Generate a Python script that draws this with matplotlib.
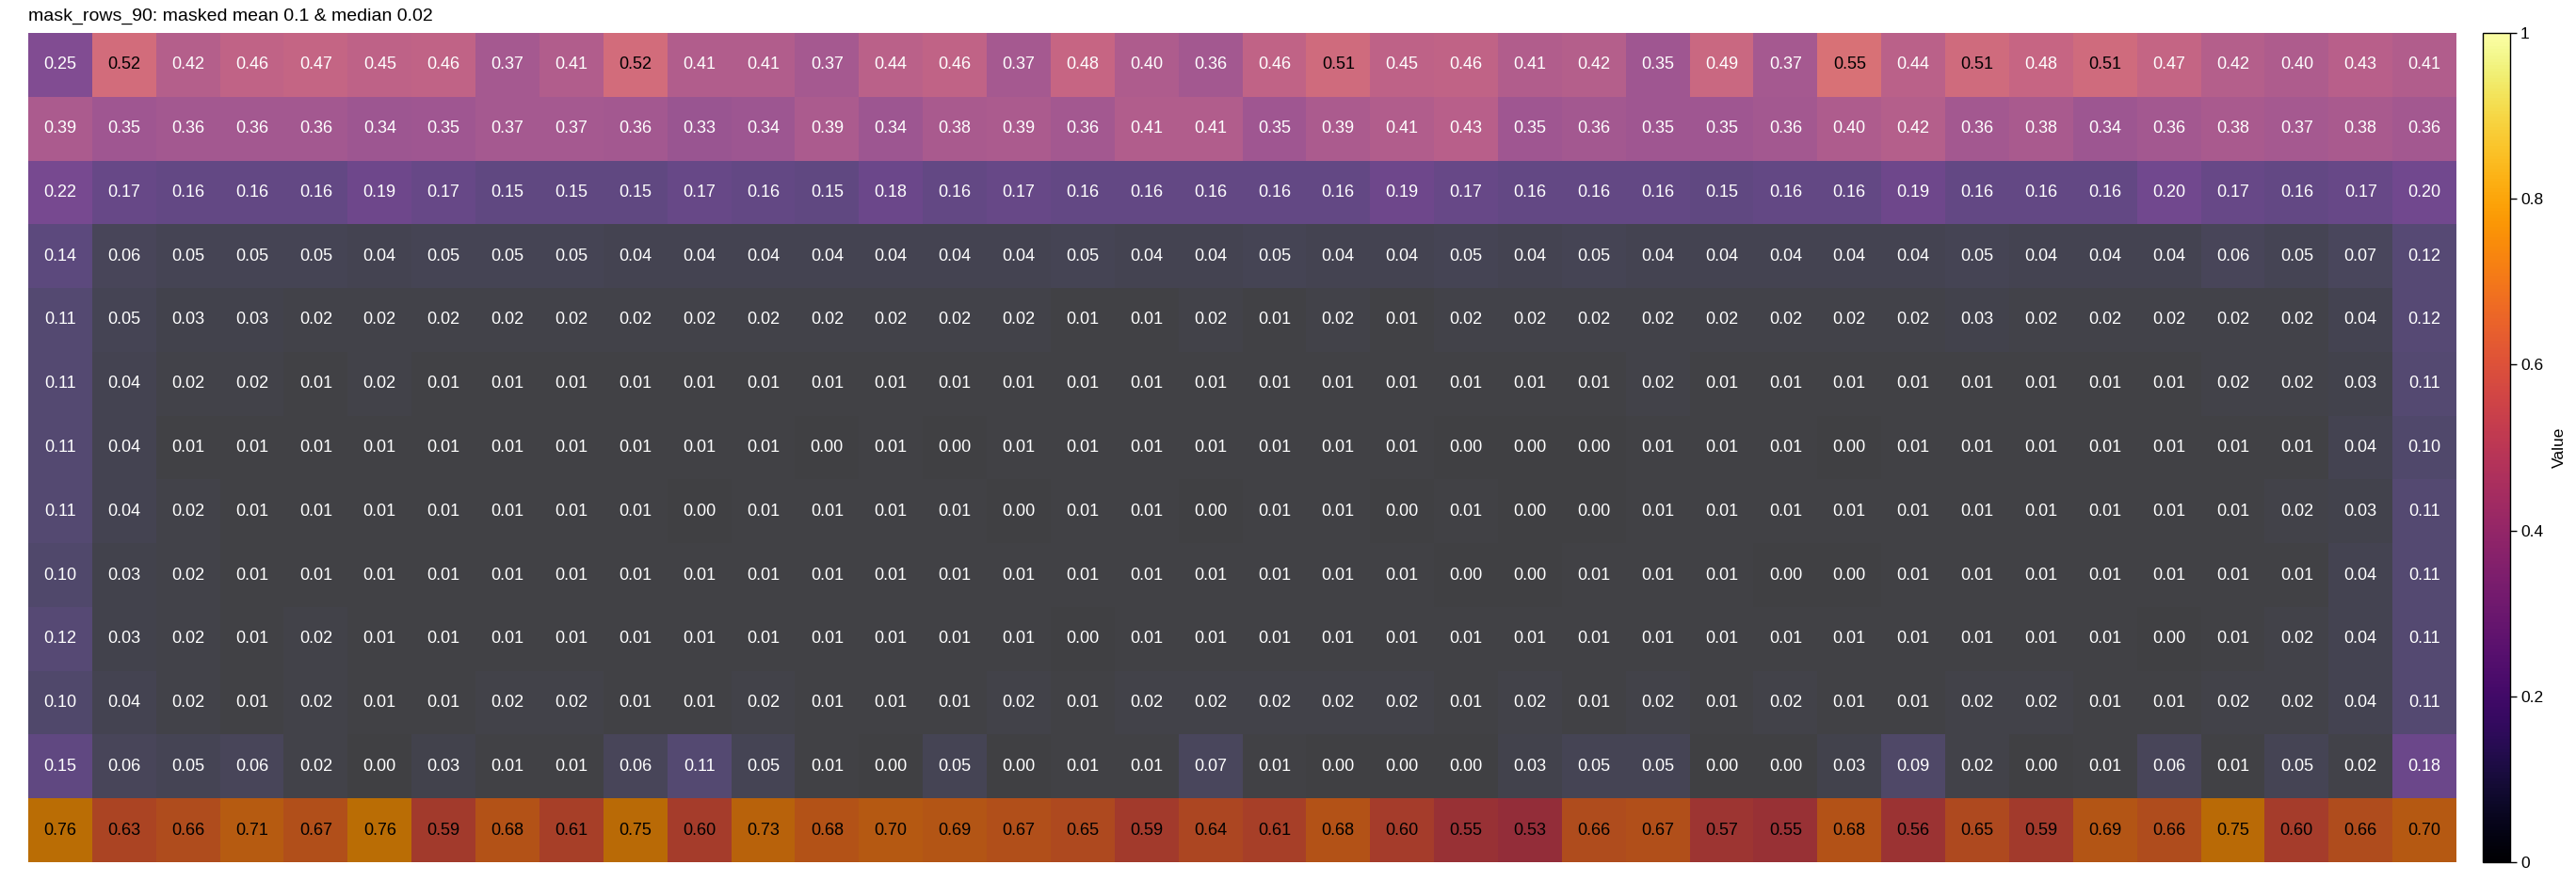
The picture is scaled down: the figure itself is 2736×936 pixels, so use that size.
import numpy as np
import matplotlib.pyplot as plt
from matplotlib.colors import Normalize
from matplotlib.cm import ScalarMappable

plt.rcParams['font.family'] = ['Liberation Sans', 'DejaVu Sans']

title = 'mask_rows_90: masked mean 0.1 & median 0.02'

# one list per heatmap row, top to bottom
row01 = [0.25, 0.52, 0.42, 0.46, 0.47, 0.45, 0.46, 0.37, 0.41, 0.52, 0.41, 0.41, 0.37, 0.44, 0.46, 0.37, 0.48, 0.40, 0.36, 0.46,
         0.51, 0.45, 0.46, 0.41, 0.42, 0.35, 0.49, 0.37, 0.55, 0.44, 0.51, 0.48, 0.51, 0.47, 0.42, 0.40, 0.43, 0.41]
row02 = [0.39, 0.35, 0.36, 0.36, 0.36, 0.34, 0.35, 0.37, 0.37, 0.36, 0.33, 0.34, 0.39, 0.34, 0.38, 0.39, 0.36, 0.41, 0.41, 0.35,
         0.39, 0.41, 0.43, 0.35, 0.36, 0.35, 0.35, 0.36, 0.40, 0.42, 0.36, 0.38, 0.34, 0.36, 0.38, 0.37, 0.38, 0.36]
row03 = [0.22, 0.17, 0.16, 0.16, 0.16, 0.19, 0.17, 0.15, 0.15, 0.15, 0.17, 0.16, 0.15, 0.18, 0.16, 0.17, 0.16, 0.16, 0.16, 0.16,
         0.16, 0.19, 0.17, 0.16, 0.16, 0.16, 0.15, 0.16, 0.16, 0.19, 0.16, 0.16, 0.16, 0.20, 0.17, 0.16, 0.17, 0.20]
row04 = [0.14, 0.06, 0.05, 0.05, 0.05, 0.04, 0.05, 0.05, 0.05, 0.04, 0.04, 0.04, 0.04, 0.04, 0.04, 0.04, 0.05, 0.04, 0.04, 0.05,
         0.04, 0.04, 0.05, 0.04, 0.05, 0.04, 0.04, 0.04, 0.04, 0.04, 0.05, 0.04, 0.04, 0.04, 0.06, 0.05, 0.07, 0.12]
row05 = [0.11, 0.05, 0.03, 0.03, 0.02, 0.02, 0.02, 0.02, 0.02, 0.02, 0.02, 0.02, 0.02, 0.02, 0.02, 0.02, 0.01, 0.01, 0.02, 0.01,
         0.02, 0.01, 0.02, 0.02, 0.02, 0.02, 0.02, 0.02, 0.02, 0.02, 0.03, 0.02, 0.02, 0.02, 0.02, 0.02, 0.04, 0.12]
row06 = [0.11, 0.04, 0.02, 0.02, 0.01, 0.02, 0.01, 0.01, 0.01, 0.01, 0.01, 0.01, 0.01, 0.01, 0.01, 0.01, 0.01, 0.01, 0.01, 0.01,
         0.01, 0.01, 0.01, 0.01, 0.01, 0.02, 0.01, 0.01, 0.01, 0.01, 0.01, 0.01, 0.01, 0.01, 0.02, 0.02, 0.03, 0.11]
row07 = [0.11, 0.04, 0.01, 0.01, 0.01, 0.01, 0.01, 0.01, 0.01, 0.01, 0.01, 0.01, 0.00, 0.01, 0.00, 0.01, 0.01, 0.01, 0.01, 0.01,
         0.01, 0.01, 0.00, 0.00, 0.00, 0.01, 0.01, 0.01, 0.00, 0.01, 0.01, 0.01, 0.01, 0.01, 0.01, 0.01, 0.04, 0.10]
row08 = [0.11, 0.04, 0.02, 0.01, 0.01, 0.01, 0.01, 0.01, 0.01, 0.01, 0.00, 0.01, 0.01, 0.01, 0.01, 0.00, 0.01, 0.01, 0.00, 0.01,
         0.01, 0.00, 0.01, 0.00, 0.00, 0.01, 0.01, 0.01, 0.01, 0.01, 0.01, 0.01, 0.01, 0.01, 0.01, 0.02, 0.03, 0.11]
row09 = [0.10, 0.03, 0.02, 0.01, 0.01, 0.01, 0.01, 0.01, 0.01, 0.01, 0.01, 0.01, 0.01, 0.01, 0.01, 0.01, 0.01, 0.01, 0.01, 0.01,
         0.01, 0.01, 0.00, 0.00, 0.01, 0.01, 0.01, 0.00, 0.00, 0.01, 0.01, 0.01, 0.01, 0.01, 0.01, 0.01, 0.04, 0.11]
row10 = [0.12, 0.03, 0.02, 0.01, 0.02, 0.01, 0.01, 0.01, 0.01, 0.01, 0.01, 0.01, 0.01, 0.01, 0.01, 0.01, 0.00, 0.01, 0.01, 0.01,
         0.01, 0.01, 0.01, 0.01, 0.01, 0.01, 0.01, 0.01, 0.01, 0.01, 0.01, 0.01, 0.01, 0.00, 0.01, 0.02, 0.04, 0.11]
row11 = [0.10, 0.04, 0.02, 0.01, 0.02, 0.01, 0.01, 0.02, 0.02, 0.01, 0.01, 0.02, 0.01, 0.01, 0.01, 0.02, 0.01, 0.02, 0.02, 0.02,
         0.02, 0.02, 0.01, 0.02, 0.01, 0.02, 0.01, 0.02, 0.01, 0.01, 0.02, 0.02, 0.01, 0.01, 0.02, 0.02, 0.04, 0.11]
row12 = [0.15, 0.06, 0.05, 0.06, 0.02, 0.00, 0.03, 0.01, 0.01, 0.06, 0.11, 0.05, 0.01, 0.00, 0.05, 0.00, 0.01, 0.01, 0.07, 0.01,
         0.00, 0.00, 0.00, 0.03, 0.05, 0.05, 0.00, 0.00, 0.03, 0.09, 0.02, 0.00, 0.01, 0.06, 0.01, 0.05, 0.02, 0.18]
row13 = [0.76, 0.63, 0.66, 0.71, 0.67, 0.76, 0.59, 0.68, 0.61, 0.75, 0.60, 0.73, 0.68, 0.70, 0.69, 0.67, 0.65, 0.59, 0.64, 0.61,
         0.68, 0.60, 0.55, 0.53, 0.66, 0.67, 0.57, 0.55, 0.68, 0.56, 0.65, 0.59, 0.69, 0.66, 0.75, 0.60, 0.66, 0.70]

masked_rows = [12]  # the bottom row is the one left out of mean/median
cb_ticks = [0, 0.2, 0.4, 0.6, 0.8, 1]
cb_ticklabels = ['0', '0.2', '0.4', '0.6', '0.8', '1']

vals = np.array([row01, row02, row03, row04, row05, row06, row07,
                 row08, row09, row10, row11, row12, row13])
nr, nc = vals.shape

W, H = 2736, 936
fig = plt.figure(figsize=(W / 100, H / 100), dpi=100)
ax = fig.add_axes([30 / W, 1 - 916 / H, (2609 - 30) / W, (916 - 35) / H])
cax = fig.add_axes([2637 / W, 1 - 916 / H, 29 / W, (916 - 35) / H])

norm = Normalize(0, 1)
for r in masked_rows:
    ax.axhspan(r, r + 1, color='black', lw=0, zorder=0)
ax.pcolormesh(vals, cmap='inferno', norm=norm, alpha=0.75, zorder=1)
ax.set_xlim(0, nc)
ax.set_ylim(nr, 0)
ax.axis('off')

for i in range(nr):
    for j in range(nc):
        v = vals[i, j]
        ax.text(j + 0.5, i + 0.5, f'{v:.2f}', ha='center', va='center', fontsize=13,
                color='black' if v > 0.5 else 'white', zorder=2)

cb = fig.colorbar(ScalarMappable(norm=norm, cmap='inferno'), cax=cax)
cb.set_ticks(cb_ticks)
cb.set_ticklabels(cb_ticklabels)
cb.ax.tick_params(labelsize=12.5, length=5, width=1, pad=3)
cb.outline.set_linewidth(1)
cb.set_label('Value', fontsize=12.5, labelpad=7)

fig.text(30 / W, 1 - 17 / H, title, ha='left', va='center', fontsize=14)

fig.savefig('out.png', dpi=100)
